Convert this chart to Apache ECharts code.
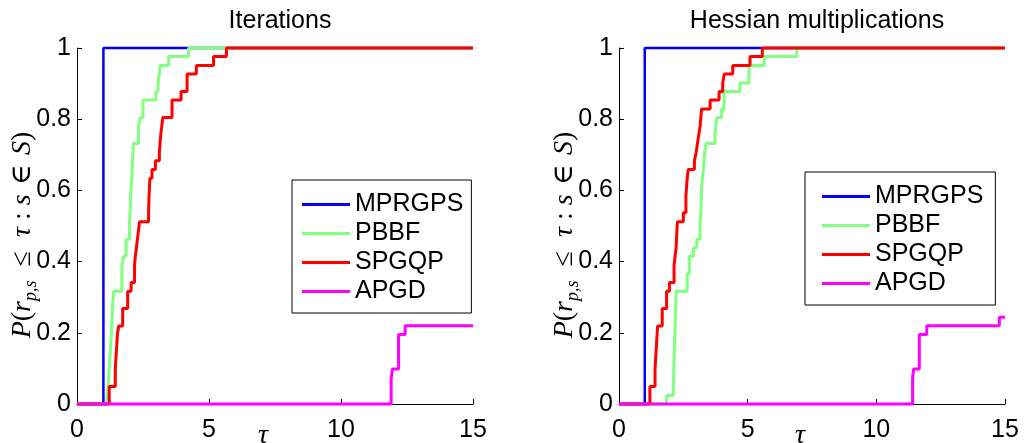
<!DOCTYPE html>
<html><head><meta charset="utf-8">
<script src="https://cdn.jsdelivr.net/npm/echarts@6/dist/echarts.min.js"></script>
<style>html,body{margin:0;padding:0;background:#fff}#c{width:1024px;height:443px}</style>
</head><body><div id="c"></div>
<script>
const seriesNames = ['MPRGPS', 'PBBF', 'SPGQP', 'APGD'];
const panelTitles = ['Iterations', 'Hessian multiplications'];
const xAxisName = 'τ';
const xMin = 0, xMax = 15, xStep = 5;
const yMin = 0, yMax = 1, yStep = 0.2;

// Panel 1: Iterations  [tau, fraction of problems]
const itMPRGPS = [[0,0],[1,1],[15,1]];
const itPBBF = [[0,0],[1.14,0.024],[1.18,0.049],[1.22,0.098],[1.26,0.146],[1.30,0.195],[1.33,0.244],[1.36,0.293],[1.39,0.317],
  [1.70,0.390],[1.77,0.415],[1.86,0.463],[1.99,0.512],[2.02,0.561],[2.05,0.610],[2.09,0.659],[2.12,0.707],[2.14,0.732],
  [2.33,0.780],[2.40,0.805],[2.50,0.854],[2.99,0.878],[3.07,0.902],[3.12,0.927],[3.15,0.951],[3.47,0.976],[4.23,1],[15,1]];
const itSPGQP = [[0,0],[1.22,0.049],[1.45,0.098],[1.49,0.146],[1.53,0.195],[1.58,0.219],[1.73,0.268],[1.92,0.317],[2.05,0.341],
  [2.18,0.390],[2.21,0.415],[2.25,0.439],[2.29,0.463],[2.33,0.488],[2.37,0.512],[2.71,0.537],[2.73,0.585],[2.76,0.634],
  [2.84,0.659],[2.97,0.683],[3.12,0.707],[3.17,0.756],[3.21,0.780],[3.25,0.805],[3.60,0.854],[3.94,0.878],[4.17,0.927],
  [4.52,0.951],[5.17,0.976],[5.66,1],[15,1]];
const itAPGD = [[0,0],[11.90,0.073],[11.95,0.098],[12.18,0.195],[12.43,0.220],[15,0.220]];

// Panel 2: Hessian multiplications
const hmMPRGPS = [[0,0],[1,1],[15,1]];
const hmPBBF = [[0,0],[1.85,0.024],[2.11,0.049],[2.13,0.098],[2.15,0.146],[2.17,0.195],[2.19,0.244],[2.21,0.293],[2.22,0.317],
  [2.65,0.366],[2.73,0.415],[2.89,0.439],[3.02,0.463],[3.15,0.512],[3.18,0.537],[3.21,0.610],[3.28,0.659],[3.33,0.707],
  [3.38,0.732],[3.73,0.756],[3.80,0.805],[3.99,0.829],[4.08,0.878],[4.70,0.902],[5.05,0.951],[5.64,0.976],[6.91,1],[15,1]];
const hmSPGQP = [[0,0],[1.20,0.049],[1.40,0.098],[1.44,0.146],[1.50,0.219],[1.68,0.268],[1.85,0.317],[1.96,0.341],[2.14,0.390],
  [2.18,0.415],[2.22,0.439],[2.25,0.488],[2.27,0.512],[2.50,0.537],[2.60,0.585],[2.65,0.634],[2.69,0.659],[2.93,0.683],
  [3.00,0.707],[3.05,0.732],[3.10,0.756],[3.15,0.780],[3.21,0.829],[3.54,0.854],[3.89,0.878],[4.03,0.902],[4.09,0.927],
  [4.42,0.951],[5.09,0.976],[5.57,1],[15,1]];
const hmAPGD = [[0,0],[11.41,0.073],[11.45,0.098],[11.67,0.195],[11.96,0.220],[14.78,0.244],[15,0.244]];

const colors = ['#0000ff', '#80ff80', '#ff0000', '#ff00ff'];
const widths = [2.5, 3, 3, 3];
const panels = [[itMPRGPS, itPBBF, itSPGQP, itAPGD], [hmMPRGPS, hmPBBF, hmSPGQP, hmAPGD]];

const SANS = '"Liberation Sans", Arial, sans-serif';
const SERIF = '"Liberation Serif", "DejaVu Serif", serif';
const grids = [
  {left: 77, top: 48, width: 396, height: 356, containLabel: false, outerBoundsMode: 'none'},
  {left: 619, top: 48, width: 386, height: 356, containLabel: false, outerBoundsMode: 'none'}
];
const legendPos = [
  {left: 292, top: 180, padding: [11, 8, 8, 10]},
  {left: 805, top: 172, padding: [11, 12, 8, 17]}
];

const yName = '{i|P}{n|(}{i|r}{s|p,s}{n|\u2002≤\u2002}{i|τ}{n| : }{i|s}{n|\u2004∈\u2004}{i|S}{n|)}';
const richName = {
  i: {fontFamily: SERIF, fontStyle: 'italic', fontSize: 28, color: '#000', lineHeight: 34},
  n: {fontFamily: SERIF, fontSize: 28, color: '#000', lineHeight: 34},
  s: {fontFamily: SERIF, fontStyle: 'italic', fontSize: 18, color: '#000', lineHeight: 34, verticalAlign: 'bottom'}
};

const option = {
  animation: false,
  backgroundColor: '#fff',
  title: panelTitles.map((t, k) => ({
    text: t, left: grids[k].left + grids[k].width / 2, textAlign: 'center', top: 4,
    textStyle: {fontFamily: SANS, fontSize: 25, fontWeight: 'normal', color: '#000'}
  })),
  legend: legendPos.map((p, k) => ({
    data: seriesNames.map((n, j) => ({name: n, icon: 'rect', itemStyle: {color: colors[j]}})),
    orient: 'vertical', left: p.left, top: p.top, padding: p.padding,
    itemGap: 2, itemWidth: 48, itemHeight: 3,
    borderColor: '#000', borderWidth: 1, backgroundColor: '#fff',
    textStyle: {fontFamily: SANS, fontSize: 25, color: '#000', lineHeight: 27},
    selectedMode: false
  })),
  grid: grids,
  xAxis: grids.map((g, k) => ({
    type: 'value', gridIndex: k, min: xMin, max: xMax, interval: xStep,
    name: xAxisName, nameLocation: 'middle', nameGap: 18, nameMoveOverlap: false,
    nameTextStyle: {fontFamily: SERIF, fontStyle: 'italic', fontSize: 28, color: '#000', padding: [0, 24, 0, 0]},
    axisLine: {show: true, lineStyle: {color: '#000', width: 1}},
    axisTick: {show: true, inside: true, length: 5, lineStyle: {color: '#000'}},
    axisLabel: {fontFamily: SANS, fontSize: 25, color: '#000', margin: 14},
    splitLine: {show: false}
  })),
  yAxis: grids.map((g, k) => ({
    type: 'value', gridIndex: k, min: yMin, max: yMax, interval: yStep,
    name: yName, nameLocation: 'middle', nameGap: 37, nameMoveOverlap: false,
    nameTextStyle: {rich: richName, padding: [0, 18, 0, 0]},
    axisLine: {show: true, lineStyle: {color: '#000', width: 1}},
    axisTick: {show: true, inside: true, length: 5, lineStyle: {color: '#000'}},
    axisLabel: {fontFamily: SANS, fontSize: 25, color: '#000', margin: 6},
    splitLine: {show: false}
  })),
  series: []
};
panels.forEach((p, k) => {
  p.forEach((d, j) => {
    option.series.push({
      name: seriesNames[j], type: 'line', xAxisIndex: k, yAxisIndex: k,
      data: d, step: 'end', symbol: 'none', showSymbol: false,
      clip: false,
      lineStyle: {color: colors[j], width: widths[j]},
      itemStyle: {color: colors[j]},
      z: 2 + j
    });
  });
});
const chart = echarts.init(document.getElementById('c'), null, {renderer: 'canvas'});
chart.setOption(option);
</script>
</body></html>
